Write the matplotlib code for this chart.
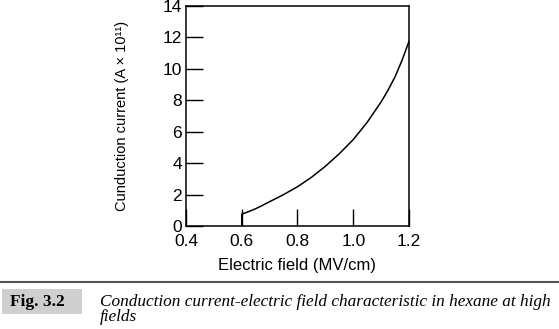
import matplotlib
matplotlib.use('Agg')
import matplotlib.pyplot as plt
from matplotlib.patches import Rectangle
from matplotlib.lines import Line2D

# values
field = [0.6, 0.6, 0.625, 0.65, 0.675, 0.7, 0.725, 0.75, 0.775, 0.8, 0.825,
         0.85, 0.875, 0.9, 0.925, 0.95, 0.975, 1.0, 1.025, 1.05, 1.075,
         1.1, 1.125, 1.15, 1.175, 1.2]
current = [0.0, 0.75, 0.92, 1.1, 1.32, 1.55, 1.77, 2.0, 2.25, 2.5, 2.8,
           3.1, 3.45, 3.8, 4.2, 4.6, 5.05, 5.5, 6.05, 6.6, 7.25,
           7.9, 8.65, 9.5, 10.55, 11.75]

xticks = [0.4, 0.6, 0.8, 1.0, 1.2]
xtick_labels = ['0.4', '0.6', '0.8', '1.0', '1.2']
yticks = [0, 2, 4, 6, 8, 10, 12, 14]

caption = ('Conduction current-electric field characteristic in hexane at high\n'
           'fields')

plt.rcParams['font.family'] = ['Liberation Sans', 'DejaVu Sans']

fig = plt.figure(figsize=(5.59, 3.29), dpi=100)
ax = fig.add_axes([0.3327, 0.313, 0.399, 0.6688])

ax.plot(field, current, color='black', linewidth=1.1)

ax.set_xlim(0.4, 1.2)
ax.set_ylim(0, 14)
ax.set_xticks(xticks)
ax.set_xticklabels(xtick_labels)
ax.set_yticks(yticks)
ax.tick_params(direction='in', length=12, width=1, labelsize=12.5, pad=3)
ax.tick_params(axis='x', pad=6)
for s in ax.spines.values():
    s.set_linewidth(1.1)

ax.set_xlabel('Electric field (MV/cm)', fontsize=12, labelpad=6)
ax.set_ylabel('Cunduction current (A \u00d7 10\u00b9\u00b9)', fontsize=10.5, labelpad=24)

# caption block
fig.add_artist(Line2D([0.0, 1.0], [1 - 282/329, 1 - 282/329],
                      color='#555555', linewidth=1.5, transform=fig.transFigure))
fig.add_artist(Rectangle((2/559, 1 - 314/329), 80/559, 25/329,
                         facecolor='#cfcfcf', edgecolor='none',
                         transform=fig.transFigure))
fig.text(37/559, 1 - 302/329, 'Fig. 3.2', fontsize=12.5, fontweight='bold',
         family='Liberation Serif', ha='center', va='center')
fig.text(100/559, 1 - 294/329, caption, fontsize=12.4, style='italic',
         family='Liberation Serif', ha='left', va='top', linespacing=0.95)

fig.savefig('out.png', dpi=100)
